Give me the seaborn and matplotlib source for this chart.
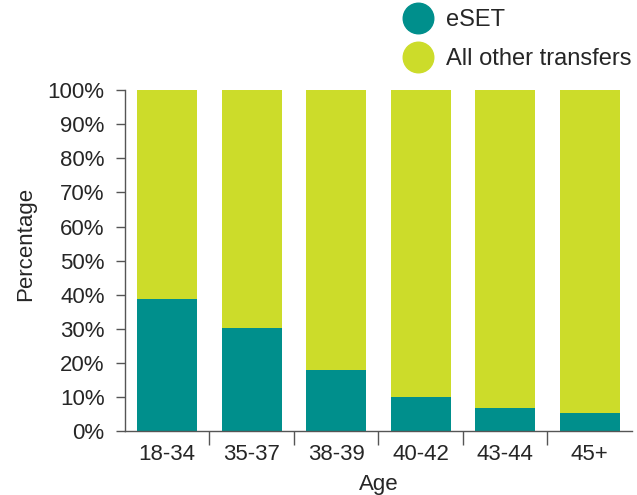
import matplotlib.pyplot as plt
import seaborn as sns
import numpy as np
import pandas as pd
from matplotlib.ticker import FixedLocator, PercentFormatter
from matplotlib.lines import Line2D

# data
ages = ['18-34', '35-37', '38-39', '40-42', '43-44', '45+']
eset = [38.7, 30.2, 17.9, 10.0, 6.7, 5.3]
other = [100 - v for v in eset]

teal = '#008f8c'
lime = '#ccdc2a'

sns.set_style('white')
plt.rcParams['font.family'] = ['Liberation Sans', 'DejaVu Sans']

df = pd.DataFrame({'age': ages, 'eset': eset, 'total': [e + o for e, o in zip(eset, other)]})

fig = plt.figure(figsize=(6.37, 4.95), dpi=100)
ax = fig.add_axes([0.196, 0.129, 0.796, 0.689])

# stacked bars: total first, eSET on top of it
sns.barplot(data=df, x='age', y='total', color=lime, width=0.71, saturation=1,
            linewidth=0, ax=ax)
sns.barplot(data=df, x='age', y='eset', color=teal, width=0.71, saturation=1,
            linewidth=0, ax=ax)

ax.set_ylim(0, 100)
ax.set_xlim(-0.5, len(ages) - 0.5)
ax.set_yticks(np.arange(0, 101, 10))
ax.yaxis.set_major_formatter(PercentFormatter(decimals=0))
ax.tick_params(axis='y', which='major', length=6.5, width=1, color='#555555',
               labelsize=16, pad=8, left=True)
ax.tick_params(axis='x', which='major', length=0, labelsize=16, pad=9)
ax.xaxis.set_minor_locator(FixedLocator(np.arange(0.5, len(ages) - 0.5, 1)))
ax.tick_params(axis='x', which='minor', length=10, width=1, color='#555555', bottom=True)

for s in ['top', 'right']:
    ax.spines[s].set_visible(False)
for s in ['left', 'bottom']:
    ax.spines[s].set_color('#555555')
    ax.spines[s].set_linewidth(1)

ax.set_xlabel('Age', fontsize=16, labelpad=7)
ax.set_ylabel('Percentage', fontsize=16, labelpad=8, y=0.55)

handles = [Line2D([], [], marker='o', linestyle='', markersize=22, color=teal),
           Line2D([], [], marker='o', linestyle='', markersize=22, color=lime)]
fig.legend(handles, ['eSET', 'All other transfers'], loc='upper left',
           bbox_to_anchor=(0.604, 1.0), frameon=False, fontsize=17,
           handletextpad=0.2, labelspacing=0.7, borderaxespad=0.0)

fig.savefig('out.png', dpi=100)
